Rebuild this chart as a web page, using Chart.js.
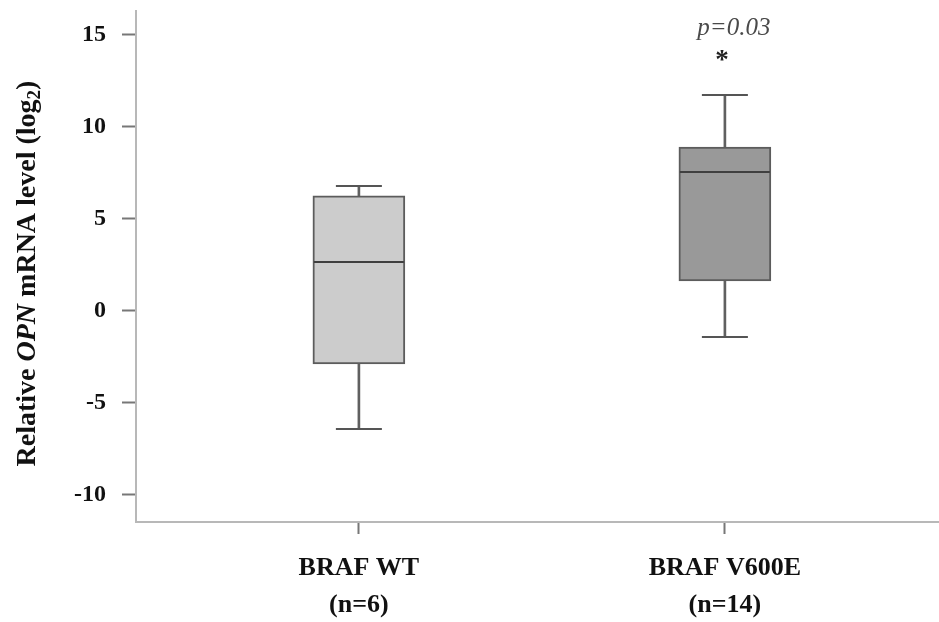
<!DOCTYPE html>
<html><head><meta charset="utf-8">
<script src="https://cdn.jsdelivr.net/npm/chart.js@4/dist/chart.umd.min.js"></script>
<style>html,body{margin:0;padding:0;background:#fff;} #wrap{width:939px;height:622px;position:relative}</style>
</head><body><div id="wrap"><canvas id="c" width="939" height="622"></canvas></div>
<script>
const categories = ['BRAF WT', 'BRAF V600E'];
const sampleSizes = ['(n=6)', '(n=14)'];
const positions = [1, 2];
const whiskerMin = [-6.41, -1.41];
const q1 = [-2.88, 1.63];
const median = [2.66, 7.55];
const q3 = [6.25, 8.9];
const whiskerMax = [6.79, 11.74];
const yTicks = [-10, -5, 0, 5, 10, 15];
const pValueText = ['', 'p=0.03'];
const significance = ['', '*'];
const boxColors = ['#cccccc', '#999999'];

const SERIF = "'Liberation Serif', 'Times New Roman', serif";

const datasets = [
  { type: 'bar', label: 'whisker',
    data: positions.map((x, i) => ({ x: x, y: [whiskerMin[i], whiskerMax[i]] })),
    backgroundColor: '#606060', borderWidth: 0, barThickness: 2, grouped: false, order: 3 },
  { type: 'bar', label: 'box',
    data: positions.map((x, i) => ({ x: x, y: [q1[i], q3[i]] })),
    backgroundColor: boxColors, borderColor: '#5c5c5c', borderWidth: 2, borderSkipped: false,
    barThickness: 92, grouped: false, order: 2 },
  { type: 'scatter', label: 'median',
    data: positions.map((x, i) => ({ x: x, y: median[i] })),
    pointStyle: 'line', pointRadius: 45, borderColor: '#3f3f3f', borderWidth: 2, order: 1 },
  { type: 'scatter', label: 'caps',
    data: positions.map((x, i) => ({ x: x, y: whiskerMin[i] })).concat(positions.map((x, i) => ({ x: x, y: whiskerMax[i] }))),
    pointStyle: 'line', pointRadius: 23, borderColor: '#555555', borderWidth: 2, order: 1 }
];

const yTitlePlugin = {
  id: 'yTitle',
  afterDraw(chart) {
    const ctx = chart.ctx;
    const parts = [
      { t: 'Relative ', f: 'bold 28px ' + SERIF, dy: 0 },
      { t: 'OPN', f: 'italic bold 28px ' + SERIF, dy: 0 },
      { t: ' mRNA level (log', f: 'bold 28px ' + SERIF, dy: 0 },
      { t: '2', f: 'bold 19px ' + SERIF, dy: 5 },
      { t: ')', f: 'bold 28px ' + SERIF, dy: 0 }
    ];
    ctx.save();
    let total = 0;
    parts.forEach(p => { ctx.font = p.f; p.w = ctx.measureText(p.t).width; total += p.w; });
    const cy = (chart.chartArea.top + chart.chartArea.bottom) / 2 + 7;
    ctx.translate(35, cy);
    ctx.rotate(-Math.PI / 2);
    ctx.fillStyle = '#111';
    ctx.textBaseline = 'alphabetic';
    ctx.textAlign = 'left';
    let x = -total / 2;
    parts.forEach(p => { ctx.font = p.f; ctx.fillText(p.t, x, p.dy); x += p.w; });
    ctx.restore();
  }
};

const annotPlugin = {
  id: 'annot',
  afterDatasetsDraw(chart) {
    const ctx = chart.ctx;
    const xs = chart.scales.x, ys = chart.scales.y;
    ctx.save();
    ctx.textAlign = 'center';
    ctx.textBaseline = 'middle';
    positions.forEach((v, i) => {
      const px = xs.getPixelForValue(v);
      const top = ys.getPixelForValue(whiskerMax[i]);
      if (pValueText[i]) {
        ctx.font = 'italic 25px ' + SERIF;
        ctx.fillStyle = '#4a4a4a';
        ctx.fillText(pValueText[i], px + 9, top - 66);
      }
      if (significance[i]) {
        ctx.font = 'bold 27px ' + SERIF;
        ctx.fillStyle = '#222222';
        ctx.fillText(significance[i], px - 3, top - 34);
      }
    });
    ctx.restore();
  }
};

const noPad = s => { s.paddingTop = 0; s.paddingBottom = 0; s.paddingLeft = 0; s.paddingRight = 0; };

new Chart(document.getElementById('c'), {
  type: 'bar',
  data: { datasets: datasets },
  plugins: [yTitlePlugin, annotPlugin],
  options: {
    responsive: false,
    animation: false,
    layout: { autoPadding: false, padding: { top: 11, right: 0, left: 0, bottom: 0 } },
    plugins: { legend: { display: false }, tooltip: { enabled: false } },
    scales: {
      x: {
        type: 'linear', min: 0.391, max: 2.585, offset: false,
        afterBuildTicks: s => { s.ticks = positions.map(v => ({ value: v })); },
        afterFit: s => { s.height = 100; noPad(s); },
        ticks: {
          autoSkip: false, maxRotation: 0, padding: 15,
          color: '#111',
          font: { family: SERIF, size: 26, weight: 'bold', lineHeight: 1.45 },
          callback: (v) => { const i = positions.indexOf(v); return i < 0 ? '' : [categories[i], sampleSizes[i]]; }
        },
        grid: { display: true, offset: false, drawOnChartArea: false, drawTicks: true, tickLength: 12, tickColor: '#777777', tickWidth: 2 },
        border: { display: true, color: '#b8b8b8', width: 2 }
      },
      y: {
        min: -11.47, max: 16.3,
        afterBuildTicks: s => { s.ticks = yTicks.map(v => ({ value: v })); },
        afterFit: s => { s.width = 136; noPad(s); },
        ticks: { color: '#111', padding: 16, font: { family: SERIF, size: 24, weight: 'bold' } },
        grid: { display: true, drawOnChartArea: false, drawTicks: true, tickLength: 14, tickColor: '#777777', tickWidth: 2 },
        border: { display: true, color: '#b8b8b8', width: 2 }
      }
    }
  }
});
</script>
</body></html>
